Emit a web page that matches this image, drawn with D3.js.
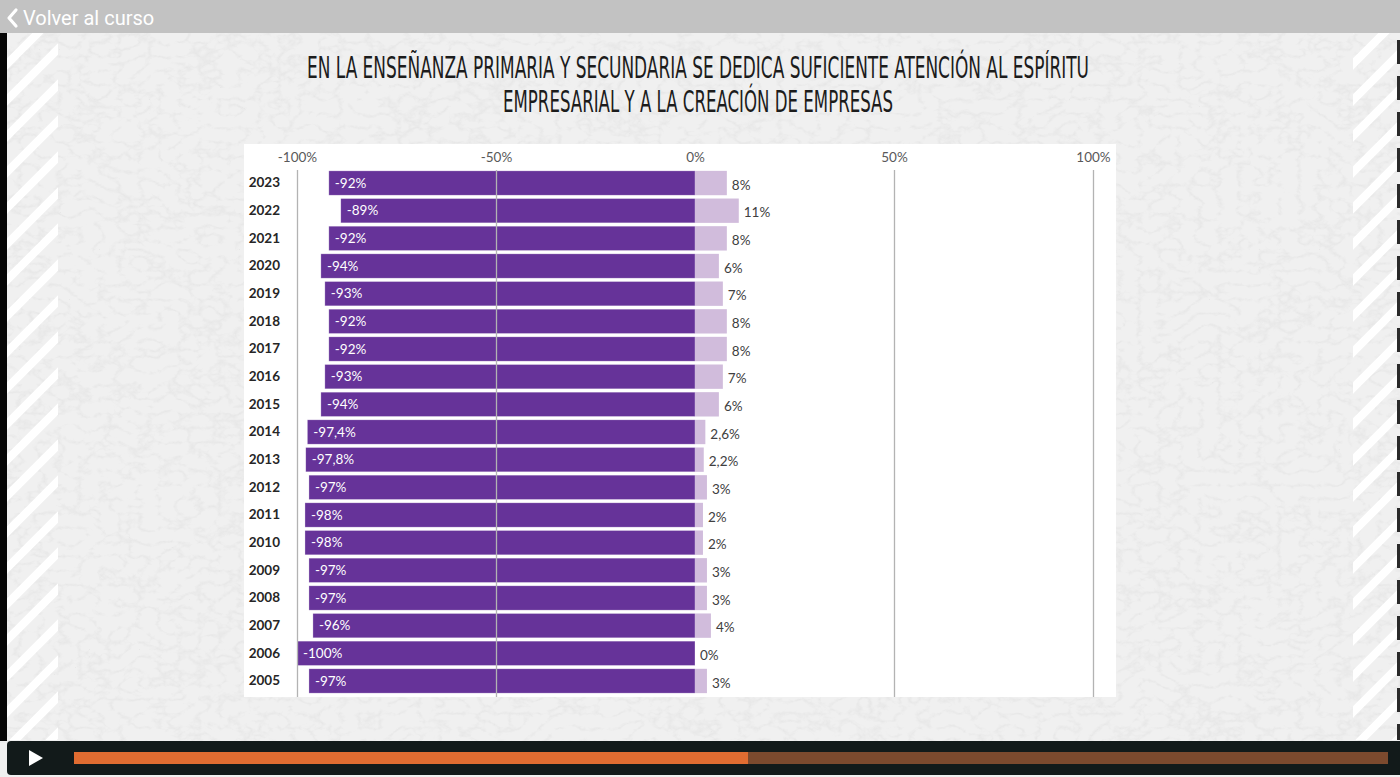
<!DOCTYPE html>
<html>
<head>
<meta charset="utf-8">
<script src="https://cdn.jsdelivr.net/npm/d3@7"></script>
<style>
  html, body { margin: 0; padding: 0; background: #efefef; }
  svg { display: block; }
</style>
</head>
<body>
<div id="chart"></div>
<script>
const years = ["2023", "2022", "2021", "2020", "2019", "2018", "2017", "2016", "2015", "2014",
  "2013", "2012", "2011", "2010", "2009", "2008", "2007", "2006", "2005"];
const disagree = [-92, -89, -92, -94, -93, -92, -92, -93, -94, -97.4, -97.8, -97, -98, -98, -97, -97, -96, -100, -97];
const agree = [8, 11, 8, 6, 7, 8, 8, 7, 6, 2.6, 2.2, 3, 2, 2, 3, 3, 4, 0, 3];
const ticks = [-100, -50, 0, 50, 100];
const titleLines = [
  "EN LA ENSEÑANZA PRIMARIA Y SECUNDARIA SE DEDICA SUFICIENTE ATENCIÓN AL ESPÍRITU",
  "EMPRESARIAL Y A LA CREACIÓN DE EMPRESAS"
];

const width = 1400, height = 777;
const svg = d3.select("#chart").append("svg").attr("width", width).attr("height", height);
const defs = svg.append("defs");

// paper texture: thin vein-like noise
const paper = defs.append("filter").attr("id", "paper").attr("x", 0).attr("y", 0).attr("width", "100%").attr("height", "100%");
paper.append("feTurbulence").attr("type", "turbulence").attr("baseFrequency", "0.05 0.07").attr("numOctaves", 3).attr("seed", 11);
paper.append("feColorMatrix").attr("type", "matrix")
  .attr("values", "0 0 0 0 0.35  0 0 0 0 0.35  0 0 0 0 0.35  -3 0 0 0 0.85");

svg.append("rect").attr("width", width).attr("height", height).attr("fill", "#f0f0f0");
svg.append("rect").attr("y", 33).attr("width", width).attr("height", 710)
  .attr("filter", "url(#paper)").attr("opacity", 0.13);

// diagonal white stripes at both sides
const stripeSides = [{ x0: 7, x1: 58 }, { x0: 1353, x1: 1397 }];
stripeSides.forEach((s, i) => {
  const clip = defs.append("clipPath").attr("id", "sclip" + i);
  clip.append("rect").attr("x", s.x0).attr("y", 33).attr("width", s.x1 - s.x0).attr("height", 707);
  const g = svg.append("g").attr("clip-path", `url(#sclip${i})`);
  g.selectAll("line").data(d3.range(-2, 24)).join("line")
    .attr("x1", s.x0 - 10).attr("y1", (d) => 40 + d * 36 + 70)
    .attr("x2", s.x1 + 10).attr("y2", (d) => 40 + d * 36 + 70 - (s.x1 - s.x0 + 20))
    .attr("stroke", "#ffffff").attr("stroke-width", 8);
});

// left dark edge and right broken edge
svg.append("rect").attr("x", 0).attr("y", 33).attr("width", 7).attr("height", 708).attr("fill", "#050505");
svg.append("line").attr("x1", 1398.5).attr("x2", 1398.5).attr("y1", 40).attr("y2", 740)
  .attr("stroke", "#2a2a2a").attr("stroke-width", 3).attr("stroke-dasharray", "24 12");

// top bar
svg.append("rect").attr("width", width).attr("height", 33).attr("fill", "#c2c2c2");
svg.append("path").attr("d", "M16,10 L9,18 L16,26").attr("fill", "none")
  .attr("stroke", "#ffffff").attr("stroke-width", 3.2).attr("stroke-linecap", "round").attr("stroke-linejoin", "round");
svg.append("text").attr("x", 23).attr("y", 25).text("Volver al curso")
  .attr("font-family", "Roboto, sans-serif").attr("font-size", 20).attr("fill", "#ffffff");

// title: narrow, tall lettering
svg.append("g").selectAll("text").data(titleLines).join("text")
  .attr("transform", (d, i) => `translate(698,${78 + i * 34}) scale(1,1.45)`)
  .attr("text-anchor", "middle")
  .attr("font-family", "'DejaVu Sans Condensed', 'Liberation Sans Narrow', sans-serif")
  .attr("font-size", 21)
  .attr("textLength", (d, i) => (i === 0 ? 782 : 390))
  .attr("lengthAdjust", "spacingAndGlyphs")
  .attr("fill", "#1c1c1c")
  .text((d) => d);

// chart panel
svg.append("rect").attr("x", 244).attr("y", 144).attr("width", 872).attr("height", 553).attr("fill", "#ffffff");

const x = d3.scaleLinear().domain([-100, 100]).range([297, 1093]);
const y = d3.scaleBand().domain(years).range([169.2, 694.8]).paddingInner(0.12).paddingOuter(0.06);
const fmt = (v) => d3.format(".1~f")(v).replace(".", ",").replace("\u2212", "-") + "%";

const rows = years.map((yr, i) => ({ year: yr, neg: disagree[i], pos: agree[i] }));

const plot = svg.append("g");

plot.selectAll("rect.neg").data(rows).join("rect").attr("class", "neg")
  .attr("x", (d) => x(d.neg)).attr("y", (d) => y(d.year))
  .attr("width", (d) => x(0) - x(d.neg)).attr("height", y.bandwidth())
  .attr("fill", "#663399").attr("stroke", "#ffffff").attr("stroke-opacity", 0.5).attr("stroke-width", 0.6);

plot.selectAll("rect.pos").data(rows).join("rect").attr("class", "pos")
  .attr("x", x(0)).attr("y", (d) => y(d.year))
  .attr("width", (d) => x(d.pos) - x(0)).attr("height", y.bandwidth())
  .attr("fill", "#d1bcdc");

// gridlines on top of bars
const grid = d3.axisTop(x).tickValues(ticks.filter((t) => t !== 0)).tickSize(-(697 - 170)).tickFormat("");
plot.append("g").attr("transform", "translate(0,170)").call(grid)
  .call((g) => g.select(".domain").remove())
  .call((g) => g.selectAll(".tick line").attr("stroke", "#b3b3b3").attr("stroke-width", 1.3));

// top axis labels
const axis = d3.axisTop(x).tickValues(ticks).tickSize(0).tickPadding(0).tickFormat((d) => d + "%");
plot.append("g").attr("transform", "translate(0,162)").call(axis)
  .call((g) => g.select(".domain").remove())
  .call((g) => g.selectAll(".tick text")
    .attr("font-family", "Lato, 'Open Sans', sans-serif").attr("font-size", 13.5).attr("fill", "#595959"));

// year labels
const yAxis = d3.axisLeft(y).tickSize(0).tickPadding(0);
plot.append("g").attr("transform", "translate(280,0)").call(yAxis)
  .call((g) => g.select(".domain").remove())
  .call((g) => g.selectAll(".tick text")
    .attr("font-family", "Lato, 'Open Sans', sans-serif").attr("font-weight", 700)
    .attr("font-size", 13.5).attr("fill", "#262626"));

// value labels
plot.selectAll("text.neg-label").data(rows).join("text").attr("class", "neg-label")
  .attr("x", (d) => x(d.neg) + 6).attr("y", (d) => y(d.year) + y.bandwidth() / 2)
  .attr("dy", "0.35em")
  .attr("font-family", "Lato, 'Open Sans', sans-serif").attr("font-size", 13.5).attr("fill", "#ffffff")
  .text((d) => fmt(d.neg));

plot.selectAll("text.pos-label").data(rows).join("text").attr("class", "pos-label")
  .attr("x", (d) => x(d.pos) + 5).attr("y", (d) => y(d.year) + y.bandwidth() / 2 + 2)
  .attr("dy", "0.35em")
  .attr("font-family", "Lato, 'Open Sans', sans-serif").attr("font-size", 13.5).attr("fill", "#404040")
  .text((d) => fmt(d.pos));

// player bar
const player = svg.append("g");
player.append("rect").attr("x", 7).attr("y", 741).attr("width", 1400).attr("height", 34).attr("rx", 4)
  .attr("fill", "#121a1a");
player.append("path").attr("d", "M29,750 L43,758 L29,766 Z").attr("fill", "#ffffff");
player.append("rect").attr("x", 74).attr("y", 752).attr("width", 1314).attr("height", 12).attr("fill", "#7c4a2e");
player.append("rect").attr("x", 74).attr("y", 752).attr("width", 674).attr("height", 12).attr("fill", "#e06c31");
</script>
</body>
</html>
